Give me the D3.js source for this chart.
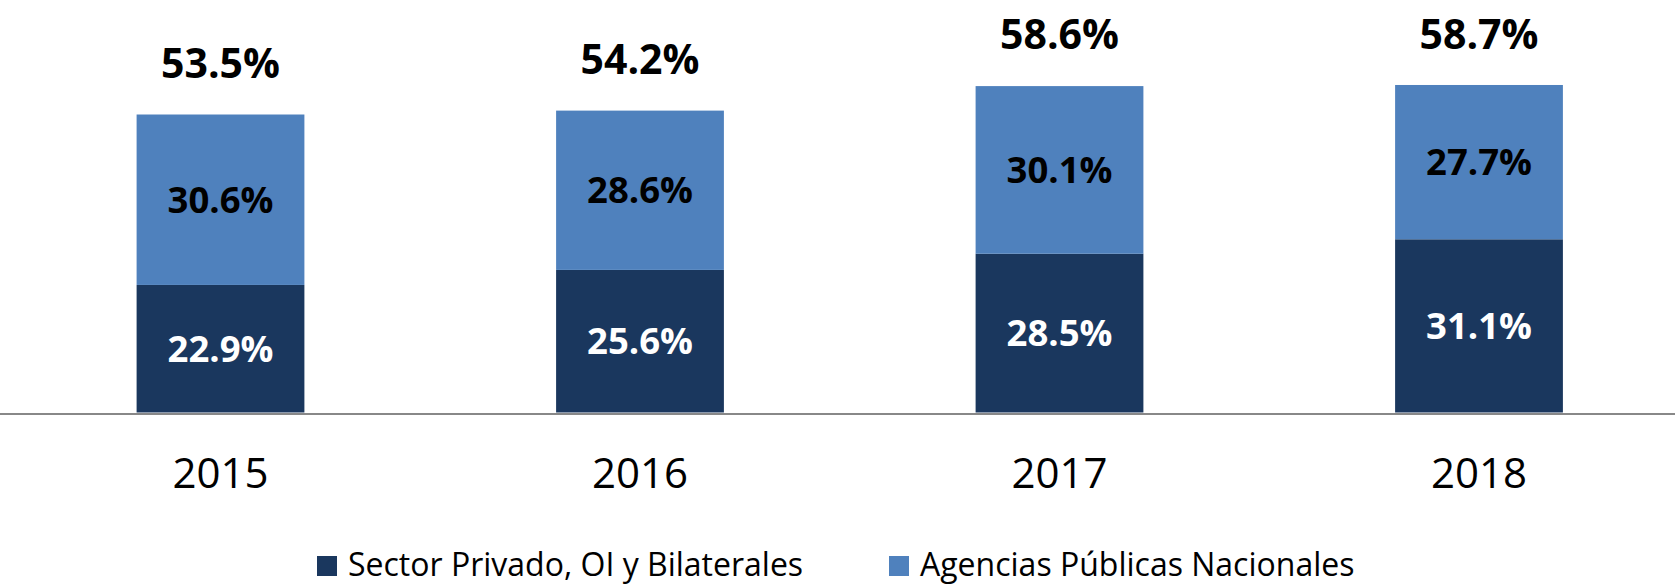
<!DOCTYPE html>
<meta charset="utf-8">
<script src="https://d3js.org/d3.v7.min.js"></script>
<style>
  body { margin: 0; background: #fff; }
  text { font-family: "Open Sans", "Noto Sans", sans-serif; }
</style>
<div id="chart"></div>
<script>

// data
var years = ["2015", "2016", "2017", "2018"]
var sectorPrivado = [22.9, 25.6, 28.5, 31.1]
var agenciasPublicas = [30.6, 28.6, 30.1, 27.7]
var totals = [53.5, 54.2, 58.6, 58.7]
var seriesNames = ["Sector Privado, OI y Bilaterales", "Agencias Públicas Nacionales"]
var seriesColors = ["#1a375e", "#4f81bd"]

var width = 1675, height = 586

var svg = d3.select("#chart")
  .append("svg")
  .attr("width", width)
  .attr("height", height)

var x = d3.scaleBand()
  .domain(years)
  .range([10.75, 1688.75])
  .paddingInner(0.6)
  .paddingOuter(0.3)

var y = d3.scaleLinear()
  .domain([0, 60])
  .range([412.5, 78.3])

// stack the two series
var rows = years.map(function(yr, i) {
  return { year: yr, privado: sectorPrivado[i], publicas: agenciasPublicas[i] }
})
var stack = d3.stack().keys(["privado", "publicas"])
var layers = stack(rows)

var layer = svg.selectAll("g.layer")
  .data(layers)
  .enter()
  .append("g")
    .attr("class", "layer")
    .attr("fill", function(d, i) { return seriesColors[i] })

layer.selectAll("rect")
  .data(function(d) { return d })
  .enter()
  .append("rect")
    .attr("x", function(d) { return x(d.data.year) })
    .attr("width", x.bandwidth())
    .attr("y", function(d) { return y(d[1]) })
    .attr("height", function(d) { return y(d[0]) - y(d[1]) })

// segment labels
layer.each(function(L, li) {
  d3.select(this).selectAll("text")
    .data(L)
    .enter()
    .append("text")
      .attr("x", function(d) { return x(d.data.year) + x.bandwidth() / 2 })
      .attr("y", function(d) { return (y(d[0]) + y(d[1])) / 2 + 13 })
      .attr("text-anchor", "middle")
      .attr("font-size", 36.5)
      .attr("font-weight", "bold")
      .attr("fill", li == 0 ? "#ffffff" : "#000000")
      .text(function(d) { return (d[1] - d[0]).toFixed(1) + "%" })
})

// total labels above bars
svg.selectAll("text.total")
  .data(years)
  .enter()
  .append("text")
    .attr("class", "total")
    .attr("x", function(d) { return x(d) + x.bandwidth() / 2 })
    .attr("y", function(d, i) { return y(totals[i]) - 37 })
    .attr("text-anchor", "middle")
    .attr("font-size", 41)
    .attr("font-weight", "bold")
    .attr("fill", "#000")
    .text(function(d, i) { return totals[i].toFixed(1) + "%" })

// x axis
var xAxis = svg.append("g")
  .attr("transform", "translate(0," + y(0) + ")")
  .call(d3.axisBottom(x).tickSize(0).tickPadding(0))
xAxis.select(".domain").remove()
xAxis.append("line")
  .attr("x1", 0)
  .attr("x2", width)
  .attr("y1", 1.5)
  .attr("y2", 1.5)
  .attr("stroke", "#888888")
  .attr("stroke-width", 2)
xAxis.selectAll(".tick text")
  .attr("y", 75)
  .attr("dy", 0)
  .attr("font-size", 42)
  .attr("font-family", "'Open Sans', sans-serif")
  .attr("fill", "#000")

// legend
var legendX = [317, 889]
var legend = svg.selectAll("g.legend")
  .data(seriesNames)
  .enter()
  .append("g")
    .attr("class", "legend")
    .attr("transform", function(d, i) { return "translate(" + legendX[i] + ",556)" })
legend.append("rect")
  .attr("width", 20)
  .attr("height", 20)
  .attr("fill", function(d, i) { return seriesColors[i] })
legend.append("text")
  .attr("x", 31)
  .attr("y", 20)
  .attr("font-size", 32)
  .attr("fill", "#000")
  .text(function(d) { return d })

</script>
